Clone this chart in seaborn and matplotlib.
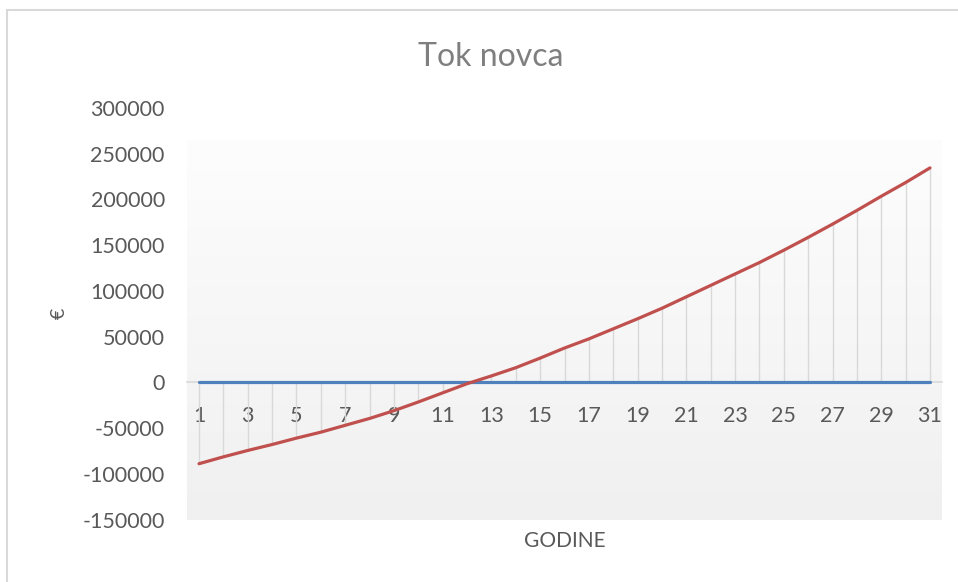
import numpy as np
import pandas as pd
import matplotlib
matplotlib.use("Agg")
import matplotlib.pyplot as plt
import matplotlib.patches as mpatches
from matplotlib.colors import LinearSegmentedColormap
import seaborn as sns

# ---- data ----
years = list(range(1, 32))
cash_flow = [-89000, -81500, -74500, -68000, -61000, -54500, -47000, -39500,
             -31000, -21500, -11500, -1500, 7000, 16000, 26500, 37500,
             47500, 58500, 69500, 81000, 93500, 106000, 118500, 131000,
             144500, 158500, 173000, 188000, 203500, 218500, 234500]
baseline = [0] * 31
y_ticks = [-150000, -100000, -50000, 0, 50000, 100000, 150000, 200000, 250000, 300000]
title = "Tok novca"
x_label = "GODINE"
y_label = "€"

sns.set_style("white")
plt.rcParams["font.family"] = ["Lato", "DejaVu Sans"]

W, H = 958, 582
fig = plt.figure(figsize=(W / 100, H / 100), dpi=100)
L, R, B, T = 187, 942, 519.5, 108
ax = fig.add_axes([L / W, 1 - B / H, (R - L) / W, (B - T) / H])
ax.set_facecolor("none")

step_px = (930 - 199) / 30.0
pad = 12 / step_px
xlim = (years[0] - pad, years[-1] + pad)
ylim = (y_ticks[0], y_ticks[-1])

# gradient plot-area fill
cmap = LinearSegmentedColormap.from_list("g", ["#f0f0f0", "#fdfdfd"])
grad = np.linspace(0, 1, 256).reshape(-1, 1)
ax.imshow(grad, extent=[xlim[0], xlim[1], y_ticks[0], 265000], origin="lower",
          aspect="auto", cmap=cmap, zorder=0, interpolation="bicubic")

df = pd.DataFrame({
    "year": years * 2,
    "value": baseline + cash_flow,
    "series": ["Series1"] * len(years) + ["Series2"] * len(years),
})

# high-low lines between the two series
ax.vlines(years, baseline, cash_flow, colors="#d9d9d9", linewidth=1.0, zorder=1)

sns.lineplot(data=df, x="year", y="value", hue="series",
             palette=["#4F81BD", "#C0504D"], linewidth=2.3, legend=False,
             ax=ax, zorder=3, solid_capstyle="round")

ax.set_xlim(*xlim)
ax.set_ylim(*ylim)

# axes styling
for s in ["top", "right", "left"]:
    ax.spines[s].set_visible(False)
ax.spines["bottom"].set_position(("data", 0))
ax.spines["bottom"].set_color("#d9d9d9")
ax.spines["bottom"].set_linewidth(1.2)
ax.spines["bottom"].set_zorder(2)

ax.set_xticks(years[::2])
ax.set_xticklabels([str(y) for y in years[::2]])
ax.set_yticks(y_ticks)
ax.set_yticklabels([str(v) for v in y_ticks])
ax.tick_params(axis="x", length=0, pad=17, labelsize=15.5, labelcolor="#595959")
ax.tick_params(axis="y", length=0, pad=16, labelsize=15.5, labelcolor="#595959")
ax.grid(False)

ax.set_xlabel(x_label, fontsize=15, color="#595959", va="center")
ax.xaxis.set_label_coords(0.5, (B - 541) / (B - T))
ax.set_ylabel(y_label, fontsize=14, color="#595959", va="center")
ax.yaxis.set_label_coords((59 - L) / (R - L), (B - 313) / (B - T))

fig.text(490.5 / W, 1 - 66 / H, title, ha="center", va="baseline",
         fontsize=23, color="#7f7f7f", fontweight="normal")

# chart-area border
border = mpatches.Rectangle((7 / W, -0.2), 1.5, 1.2 - 10 / H, transform=fig.transFigure,
                            fill=False, edgecolor="#d9d9d9", linewidth=1.5, zorder=10)
fig.patches.append(border)

fig.savefig("out.png", dpi=100, facecolor="white")
